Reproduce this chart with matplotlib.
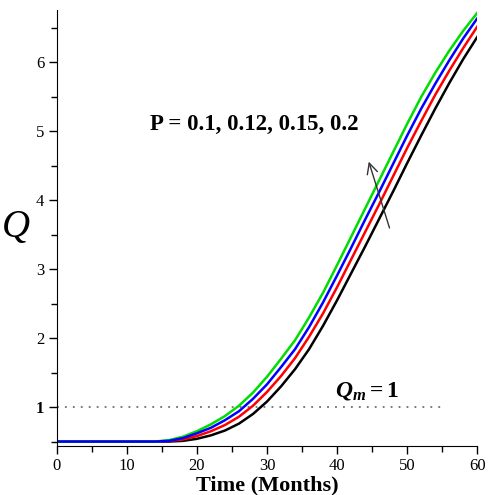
import matplotlib.pyplot as plt
from matplotlib.ticker import MultipleLocator

plt.rcParams['mathtext.fontset'] = 'custom'
plt.rcParams['mathtext.it'] = 'Liberation Serif:bold:italic'
plt.rcParams['mathtext.rm'] = 'Liberation Serif:bold'

# time grid (months)
t = [0, 5, 10, 14, 16, 18, 20, 22, 24, 26, 28, 30, 32, 34, 36, 38, 40,
     42, 44, 46, 48, 50, 52, 54, 56, 58, 60]

# Q for P = 0.1, 0.12, 0.15, 0.2
q_p010 = [0.5, 0.5, 0.5, 0.5, 0.50, 0.51, 0.54, 0.59, 0.66, 0.76, 0.90, 1.08,
          1.30, 1.55, 1.84, 2.18, 2.55, 2.94, 3.33, 3.73, 4.13, 4.54, 4.94,
          5.33, 5.70, 6.05, 6.37]
q_p012 = [0.5, 0.5, 0.5, 0.5, 0.51, 0.53, 0.58, 0.65, 0.74, 0.86, 1.02, 1.22,
          1.45, 1.71, 2.02, 2.36, 2.74, 3.14, 3.54, 3.94, 4.35, 4.76, 5.15,
          5.53, 5.88, 6.21, 6.52]
q_p015 = [0.5, 0.5, 0.5, 0.5, 0.51, 0.55, 0.62, 0.70, 0.81, 0.94, 1.12, 1.33,
          1.58, 1.84, 2.16, 2.52, 2.91, 3.31, 3.72, 4.12, 4.53, 4.94, 5.33,
          5.69, 6.03, 6.35, 6.64]
q_p020 = [0.5, 0.5, 0.5, 0.5, 0.52, 0.57, 0.65, 0.75, 0.87, 1.02, 1.21, 1.44,
          1.70, 1.97, 2.30, 2.66, 3.06, 3.47, 3.88, 4.29, 4.70, 5.11, 5.50,
          5.85, 6.17, 6.46, 6.72]

# draw order: blue ends up on top along the flat start
series = [q_p010, q_p012, q_p020, q_p015]
colors = ['black', 'red', '#00dd00', 'blue']

q_m = 1
q_m_end = 55

fig = plt.figure(figsize=(4.89, 4.95), dpi=100, facecolor='white')
ax = fig.add_axes([0.116, 0.0996, 0.86, 0.88])

for q, c in zip(series, colors):
    ax.plot(t, q, color=c, linewidth=1.8)

# threshold line
ax.plot([0, q_m_end], [q_m, q_m], color='#555555', linestyle=(0, (1.2, 4)),
        linewidth=1.1)

ax.set_xlim(0, 60)
ax.set_ylim(0.44, 6.76)
ax.spines['top'].set_visible(False)
ax.spines['right'].set_visible(False)
ax.xaxis.set_major_locator(MultipleLocator(10))
ax.xaxis.set_minor_locator(MultipleLocator(5))
ax.yaxis.set_major_locator(MultipleLocator(1))
ax.yaxis.set_minor_locator(MultipleLocator(0.5))
ax.tick_params(which='major', length=6, width=1, labelsize=12, pad=3)
ax.tick_params(which='minor', length=4, width=1)
for lab in ax.get_xticklabels():
    lab.set_fontfamily('Liberation Serif')
ax.set_yticks([1, 2, 3, 4, 5, 6])
ax.set_yticklabels(['1', '2', '3', '4', '5', '6'], fontfamily='Liberation Serif')
ax.get_yticklabels()[0].set_fontweight('bold')

ax.set_xlabel('Time (Months)', fontfamily='Liberation Serif', fontweight='bold',
              fontsize=16, labelpad=1)
ax.set_ylabel('Q', fontfamily='Liberation Serif', fontstyle='italic',
              fontsize=28, rotation=0, labelpad=14, va='center')

ax.text(13.3, 5.10, 'P = 0.1, 0.12, 0.15, 0.2', fontfamily='Liberation Serif',
        fontweight='bold', fontsize=16.5, ha='left', va='center')
ax.annotate('', xy=(44.4, 4.60), xytext=(47.6, 3.56),
            arrowprops=dict(arrowstyle='->', color='#333333', lw=1.0,
                            mutation_scale=19))
ax.text(44.2, 1.15, r'$Q_m = 1$', fontsize=17, ha='center', va='baseline')

plt.savefig('out.png', dpi=100)
